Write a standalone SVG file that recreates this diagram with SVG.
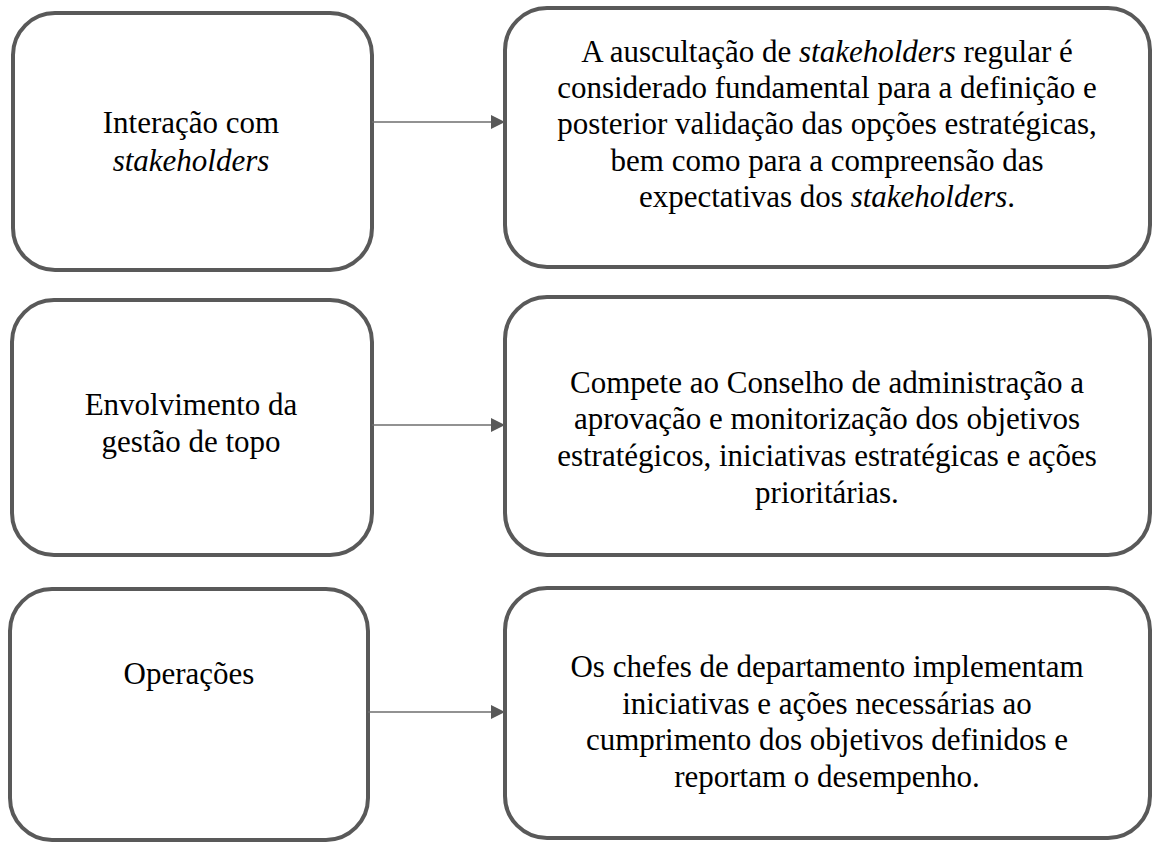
<svg xmlns="http://www.w3.org/2000/svg" width="1155" height="843" viewBox="0 0 1155 843">
<defs>
<marker id="ah" markerWidth="14" markerHeight="14" refX="13" refY="7" orient="auto" markerUnits="userSpaceOnUse">
<path d="M0,0 L14,7 L0,14 z" fill="#595959"/>
</marker>
<style>
.box{fill:#fff;stroke:#595959;stroke-width:4}
.c{stroke:#6e6e6e;stroke-width:1.6;fill:none;marker-end:url(#ah)}
text{font-family:'Liberation Serif','Times New Roman',serif;font-size:31px;text-anchor:middle;fill:#000}
.i{font-style:italic}
</style>
</defs>
<rect width="1155" height="843" fill="#fff"/>
<g id="n1"><rect class="box" x="13" y="13" width="359" height="257" rx="42"/>
<text x="191" y="133">Interação com</text>
<text class="i" x="191" y="171">stakeholders</text></g>
<g id="n2"><rect class="box" x="505" y="8" width="645" height="259" rx="42"/>
<text x="827" y="62">A auscultação de <tspan class="i">stakeholders</tspan> regular é</text>
<text x="827" y="98">considerado fundamental para a definição e</text>
<text x="827" y="134">posterior validação das opções estratégicas,</text>
<text x="827" y="171">bem como para a compreensão das</text>
<text x="827" y="207">expectativas dos <tspan class="i">stakeholders</tspan>.</text></g>
<g id="n3"><rect class="box" x="12" y="300" width="360" height="255" rx="42"/>
<text x="191" y="415">Envolvimento da</text>
<text x="191" y="452">gestão de topo</text></g>
<g id="n4"><rect class="box" x="505" y="297" width="645" height="258" rx="42"/>
<text x="827" y="393">Compete ao Conselho de administração a</text>
<text x="827" y="429">aprovação e monitorização dos objetivos</text>
<text x="827" y="466">estratégicos, iniciativas estratégicas e ações</text>
<text x="827" y="503">prioritárias.</text></g>
<g id="n5"><rect class="box" x="10" y="589" width="358" height="251" rx="42"/>
<text x="189" y="684">Operações</text></g>
<g id="n6"><rect class="box" x="505" y="588" width="645" height="250" rx="42"/>
<text x="827" y="677">Os chefes de departamento implementam</text>
<text x="827" y="714">iniciativas e ações necessárias ao</text>
<text x="827" y="750">cumprimento dos objetivos definidos e</text>
<text x="827" y="787">reportam o desempenho.</text></g>
<g id="connectors">
<line class="c" x1="372" y1="122" x2="504" y2="122"/>
<line class="c" x1="372" y1="425" x2="504" y2="425"/>
<line class="c" x1="368" y1="712" x2="504" y2="712"/>
</g>
</svg>
